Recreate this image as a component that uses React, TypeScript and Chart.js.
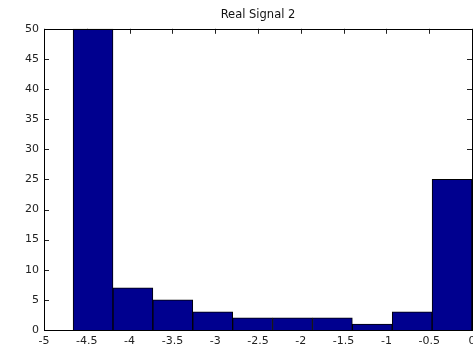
import React, { useEffect, useRef } from "react";
import { Chart, registerables } from "chart.js";

Chart.register(...registerables);

const title = "Real Signal 2";
const binEdges = [-4.66, -4.194, -3.728, -3.262, -2.796, -2.33, -1.864, -1.398, -0.932, -0.466, 0];
const counts = [50, 7, 5, 3, 2, 2, 2, 1, 3, 25];
const xTicks = [-5, -4.5, -4, -3.5, -3, -2.5, -2, -1.5, -1, -0.5, 0];
const yTicks = [0, 5, 10, 15, 20, 25, 30, 35, 40, 45, 50];

const FONT = "'DejaVu Sans', 'Liberation Sans', Arial, sans-serif";

const axesBoxPlugin = {
  id: "axesBox",
  beforeDatasetsDraw(chart: any) {
    const { ctx, chartArea: a, scales } = chart;
    const len = 5;
    ctx.save();
    ctx.strokeStyle = "#222";
    ctx.lineWidth = 1;
    ctx.beginPath();
    xTicks.forEach((v) => {
      const px = Math.round(scales.x.getPixelForValue(v)) + 0.5;
      ctx.moveTo(px, a.bottom);
      ctx.lineTo(px, a.bottom - len);
      ctx.moveTo(px, a.top);
      ctx.lineTo(px, a.top + len);
    });
    yTicks.forEach((v) => {
      const py = Math.round(scales.y.getPixelForValue(v)) + 0.5;
      ctx.moveTo(a.left, py);
      ctx.lineTo(a.left + len, py);
      ctx.moveTo(a.right, py);
      ctx.lineTo(a.right - len, py);
    });
    ctx.stroke();
    ctx.restore();
  },
  afterDatasetsDraw(chart: any) {
    const { ctx, chartArea: a } = chart;
    ctx.save();
    ctx.strokeStyle = "#000";
    ctx.lineWidth = 1;
    ctx.strokeRect(Math.round(a.left) + 0.5, Math.round(a.top) + 0.5, Math.round(a.right - a.left), Math.round(a.bottom - a.top));
    ctx.restore();
  },
};

export default function App() {
  const ref = useRef<HTMLCanvasElement | null>(null);
  useEffect(() => {
    const canvas = ref.current!;
    const centers = counts.map((_, i) => (binEdges[i] + binEdges[i + 1]) / 2);
    const chart = new Chart(canvas, {
      type: "bar",
      data: {
        datasets: [
          {
            data: counts.map((c, i) => ({ x: centers[i], y: c })),
            backgroundColor: "#00008F",
            borderColor: "#000000",
            borderWidth: 1,
            barPercentage: 1,
            categoryPercentage: 1,
          },
        ],
      },
      options: {
        animation: false,
        responsive: false,
        devicePixelRatio: 1,
        layout: { padding: { left: 0, right: 1, top: 0, bottom: 0 } },
        plugins: {
          legend: { display: false },
          tooltip: { enabled: false },
          title: {
            display: true,
            text: title,
            fullSize: false,
            color: "#111",
            font: { family: FONT, size: 11.5, weight: "normal" },
            padding: { top: 8, bottom: 7 },
          },
        },
        scales: {
          x: {
            type: "linear",
            offset: false,
            min: -5,
            max: 0,
            grid: { display: false, drawTicks: false },
            border: { display: false },
            afterBuildTicks: (s: any) => {
              s.ticks = xTicks.map((v) => ({ value: v }));
            },
            ticks: {
              color: "#222",
              font: { family: FONT, size: 11 },
              padding: 5,
              maxRotation: 0,
              autoSkip: false,
              callback: (v: any) => String(v),
            },
            afterFit: (s: any) => {
              s.height = 24;
              s.paddingLeft = 0;
              s.paddingRight = 0;
            },
          },
          y: {
            min: 0,
            max: 50,
            grid: { display: false, drawTicks: false },
            border: { display: false },
            afterBuildTicks: (s: any) => {
              s.ticks = yTicks.map((v) => ({ value: v }));
            },
            ticks: {
              color: "#222",
              font: { family: FONT, size: 11 },
              padding: 5,
              callback: (v: any) => String(v),
            },
            afterFit: (s: any) => {
              s.width = 44;
              s.paddingTop = 0;
              s.paddingBottom = 0;
            },
          },
        },
      } as any,
      plugins: [axesBoxPlugin],
    });
    return () => chart.destroy();
  }, []);
  return (
    <div style={{ position: "fixed", left: 0, top: 0, width: 473, height: 354, background: "#fff" }}>
      <canvas ref={ref} width={473} height={354} style={{ display: "block" }} />
    </div>
  );
}
